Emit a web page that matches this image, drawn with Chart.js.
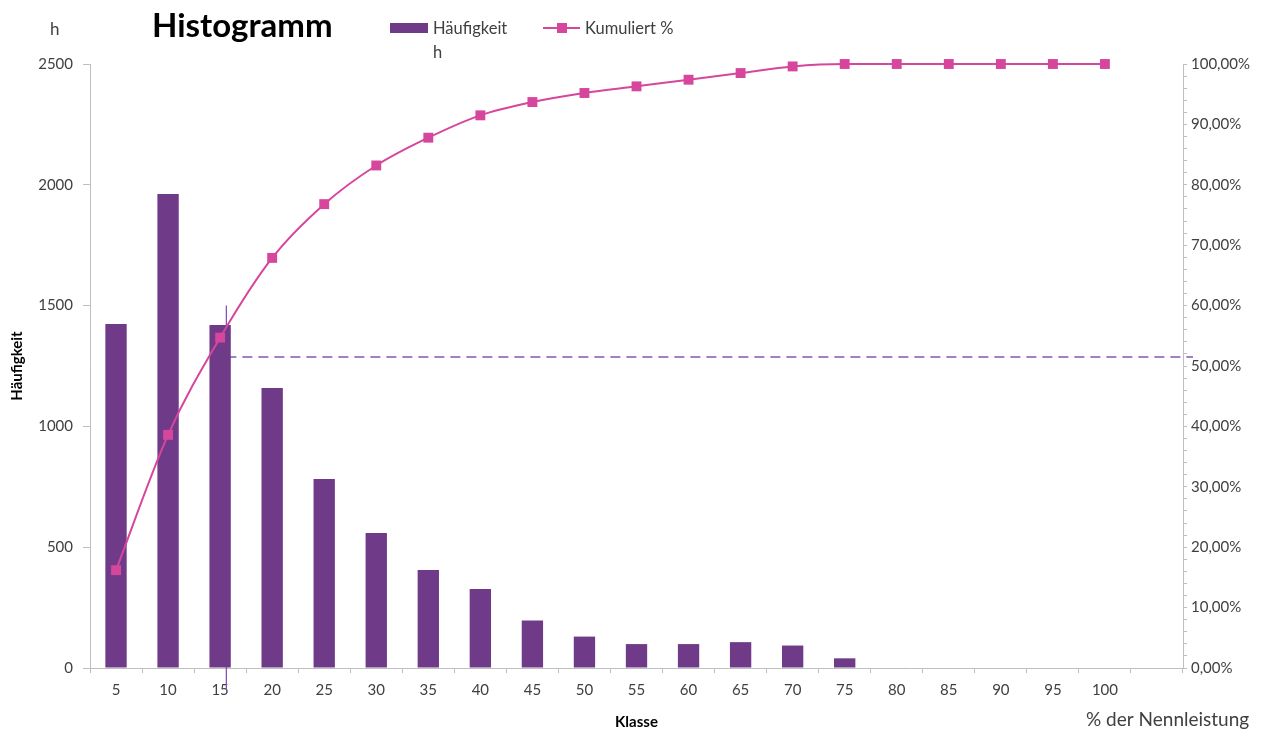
<!DOCTYPE html>
<html>
<head>
<meta charset="utf-8">
<title>Histogramm</title>
<script src="https://cdn.jsdelivr.net/npm/chart.js@4.4.1/dist/chart.umd.min.js"></script>
<style>
  html, body { margin: 0; padding: 0; background: #ffffff; }
  #wrap { position: relative; width: 1277px; height: 731px; }
</style>
</head>
<body>
<div id="wrap"><canvas id="hist" width="1277" height="731"></canvas></div>
<script>
// Klassen (% der Nennleistung); the last slot is an empty class
const classes = ['5', '10', '15', '20', '25', '30', '35', '40', '45', '50',
                 '55', '60', '65', '70', '75', '80', '85', '90', '95', '100', ''];

// Häufigkeit per class (h)
const frequency = [1424, 1962, 1420, 1159, 782, 559, 406, 327, 197, 130,
                   99, 99, 107, 93, 40, 0, 0, 0, 0, 0, null];

// Kumuliert % (share 0..1)
const cumulative = [0.162, 0.386, 0.547, 0.679, 0.768, 0.832, 0.878, 0.915, 0.937, 0.952,
                    0.963, 0.974, 0.985, 0.996, 1.0, 1.0, 1.0, 1.0, 1.0, 1.0, null];

// Left and right axis ticks
const freqTicks = [0, 500, 1000, 1500, 2000, 2500];
const pctMajor = [0, 0.1, 0.2, 0.3, 0.4, 0.5, 0.6, 0.7, 0.8, 0.9, 1.0];

// Median marker: class position, top of its marker line, and cumulative level of the guide
const medianClassPos = 2.12;
const medianMarkerTop = 1500;
const medianLevel = 0.515;

const BAR = '#6F3A87';
const LINE = '#D6469C';
const GUIDE = '#8456B0';
const AXIS = '#BFBFBF';
const TEXT = '#404040';
const FONT = 'Lato, "Open Sans", sans-serif';

const pctLabel = v => (v * 100).toFixed(2).replace('.', ',') + '%';

const sheetText = {
  id: 'sheetText',
  beforeDatasetsDraw(chart) {
    const ctx = chart.ctx;
    const x = chart.scales.x, y = chart.scales.y, y1 = chart.scales.y1;
    const step = x.getPixelForValue(1) - x.getPixelForValue(0);
    const mx = x.getPixelForValue(0) + medianClassPos * step;
    ctx.save();
    ctx.strokeStyle = GUIDE;
    ctx.lineWidth = 1.3;
    // vertical marker
    ctx.beginPath();
    ctx.moveTo(mx, y.getPixelForValue(medianMarkerTop));
    ctx.lineTo(mx, chart.chartArea.bottom + 22);
    ctx.stroke();
    // dashed guide at the median level
    ctx.lineWidth = 1.5;
    ctx.setLineDash([10, 6]);
    ctx.beginPath();
    const gy = Math.round(y1.getPixelForValue(medianLevel));
    ctx.moveTo(mx, gy);
    ctx.lineTo(chart.chartArea.right + 10, gy);
    ctx.stroke();
    ctx.restore();
  },
  afterDraw(chart) {
    const ctx = chart.ctx;
    const barSet = chart.data.datasets.find(d => d.type === 'bar');
    const lineSet = chart.data.datasets.find(d => d.type === 'line');
    ctx.save();
    ctx.fillStyle = '#000000';
    ctx.textBaseline = 'alphabetic';
    ctx.textAlign = 'left';
    // title
    ctx.font = 'bold 33px ' + FONT;
    ctx.fillText('Histogramm', 152, 37);
    // unit of left axis
    ctx.fillStyle = TEXT;
    ctx.font = '17px ' + FONT;
    ctx.fillText('h', 50, 35);
    // legend: bars
    ctx.fillStyle = BAR;
    ctx.fillRect(390, 23, 38, 10);
    ctx.fillStyle = TEXT;
    ctx.font = '16.5px ' + FONT;
    const barLines = barSet.label.split('\n');
    ctx.fillText(barLines[0], 433, 34);
    if (barLines[1]) ctx.fillText(barLines[1], 433, 58);
    // legend: line
    ctx.strokeStyle = LINE;
    ctx.lineWidth = 2;
    ctx.beginPath();
    ctx.moveTo(543, 28);
    ctx.lineTo(580, 28);
    ctx.stroke();
    ctx.fillStyle = LINE;
    ctx.fillRect(557, 23, 10, 10);
    ctx.fillStyle = TEXT;
    ctx.fillText(lineSet.label, 585, 34);
    // unit of the classes
    ctx.font = '19px ' + FONT;
    ctx.fillText('% der Nennleistung', 1086, 726);
    ctx.restore();
  }
};

new Chart(document.getElementById('hist'), {
  data: {
    labels: classes,
    datasets: [
      {
        type: 'line',
        label: 'Kumuliert %',
        data: cumulative,
        yAxisID: 'y1',
        borderColor: LINE,
        backgroundColor: LINE,
        borderWidth: 2,
        pointStyle: 'rect',
        pointRadius: 7,
        pointHoverRadius: 7,
        pointBorderWidth: 0,
        cubicInterpolationMode: 'monotone',
        clip: false,
        order: 0
      },
      {
        type: 'bar',
        label: 'Häufigkeit\nh',
        data: frequency,
        yAxisID: 'y',
        backgroundColor: BAR,
        borderWidth: 0,
        barPercentage: 0.41,
        categoryPercentage: 1.0,
        order: 1
      }
    ]
  },
  options: {
    responsive: false,
    animation: false,
    layout: { padding: { top: 64, left: 0, right: 0, bottom: 0 } },
    plugins: {
      legend: { display: false },
      title: { display: false },
      tooltip: { enabled: false }
    },
    scales: {
      x: {
        type: 'category',
        offset: true,
        grid: { offset: true, drawOnChartArea: false, drawTicks: true, tickLength: 5, color: AXIS },
        border: { display: true, color: AXIS, width: 1 },
        ticks: { color: TEXT, font: { family: FONT, size: 15 }, padding: 8, maxRotation: 0, autoSkip: false },
        title: { display: true, text: 'Klasse', color: '#000000', font: { family: FONT, size: 15, weight: 'bold' }, padding: { top: 2, bottom: 0 } },
        afterFit(scale) { scale.height = 63; }
      },
      y: {
        position: 'left',
        min: 0,
        max: 2500,
        afterBuildTicks(scale) { scale.ticks = freqTicks.map(v => ({ value: v })); },
        grid: { drawOnChartArea: false, drawTicks: true, tickLength: 7, color: AXIS },
        border: { display: true, color: AXIS, width: 1 },
        ticks: { color: TEXT, font: { family: FONT, size: 15 }, padding: 10, callback: v => String(v) },
        title: { display: true, text: 'Häufigkeit', color: '#000000', font: { family: FONT, size: 15, weight: 'bold' }, padding: { top: 8, bottom: 2 } },
        afterFit(scale) { scale.width = 90; }
      },
      y1: {
        position: 'right',
        min: 0,
        max: 1,
        afterBuildTicks(scale) {
          const t = [];
          for (let i = 0; i <= 50; i++) t.push({ value: i / 50 });
          scale.ticks = t;
        },
        grid: { drawOnChartArea: false, drawTicks: true, tickLength: 4, color: AXIS },
        border: { display: true, color: AXIS, width: 1 },
        ticks: {
          color: TEXT,
          font: { family: FONT, size: 15 },
          padding: 4,
          autoSkip: false,
          callback(v) {
            const hit = pctMajor.find(m => Math.abs(m - v) < 1e-6);
            return hit !== undefined ? pctLabel(hit) : '';
          }
        },
        afterFit(scale) { scale.width = 94; }
      }
    }
  },
  plugins: [sheetText]
});
</script>
</body>
</html>
